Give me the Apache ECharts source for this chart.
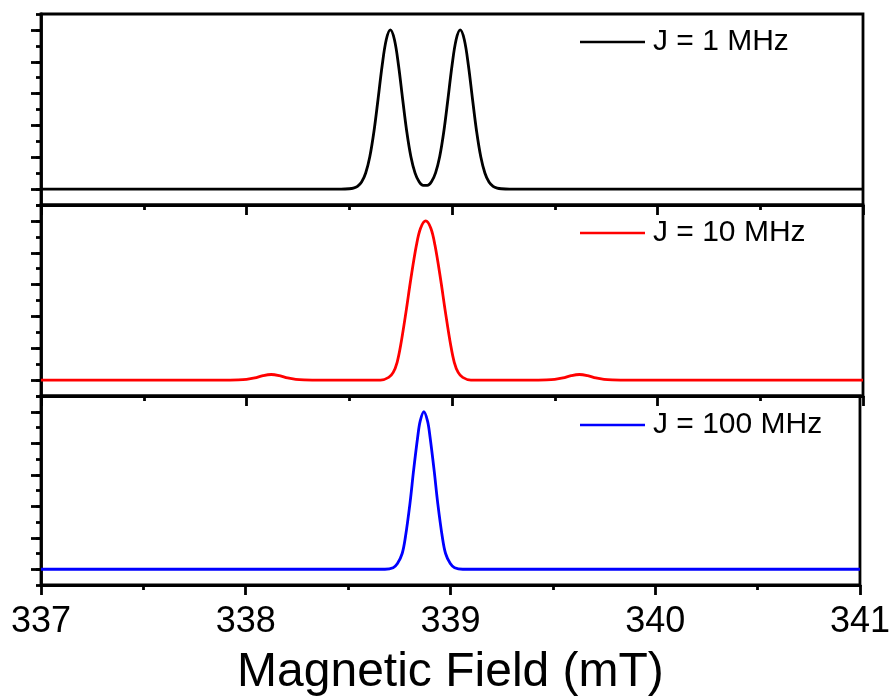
<!DOCTYPE html>
<html>
<head>
<meta charset="utf-8">
<script src="https://cdn.jsdelivr.net/npm/echarts/dist/echarts.min.js"></script>
<style>
  html, body { margin: 0; padding: 0; background: #fff; }
  #main { width: 893px; height: 698px; }
</style>
</head>
<body>
<div id="main"></div>
<script>
// 磁场 (mT) 与三条谱线的读数
var fieldJ1 = [337, 338.46, 338.50, 338.52, 338.54, 338.56, 338.58, 338.60, 338.62, 338.64, 338.66, 338.68, 338.70, 338.72, 338.74, 338.76, 338.78, 338.80, 338.82, 338.84, 338.86, 338.88, 338.90, 338.92, 338.94, 338.96, 338.98, 339.00, 339.02, 339.04, 339.06, 339.08, 339.10, 339.12, 339.14, 339.16, 339.18, 339.20, 339.22, 339.24, 339.28, 341];
var signalJ1 = [0, 0, 0.002, 0.006, 0.017, 0.044, 0.101, 0.203, 0.360, 0.563, 0.775, 0.938, 1.0, 0.938, 0.775, 0.563, 0.360, 0.203, 0.102, 0.046, 0.023, 0.023, 0.046, 0.102, 0.203, 0.360, 0.563, 0.775, 0.938, 1.0, 0.938, 0.775, 0.563, 0.360, 0.203, 0.101, 0.044, 0.017, 0.006, 0.002, 0, 0];

var fieldJ10 = [337, 337.92, 337.96, 338.00, 338.04, 338.08, 338.12, 338.16, 338.20, 338.24, 338.28, 338.32, 338.652, 338.692, 338.714, 338.733, 338.750, 338.776, 338.800, 338.827, 338.847, 338.872, 338.897, 338.917, 338.944, 338.968, 338.994, 339.011, 339.030, 339.052, 339.092, 339.42, 339.46, 339.50, 339.54, 339.58, 339.62, 339.66, 339.70, 339.74, 339.78, 339.82, 341];
var signalJ10 = [0, 0, 0.001, 0.005, 0.014, 0.028, 0.035, 0.028, 0.014, 0.005, 0.001, 0, 0, 0.017, 0.048, 0.112, 0.217, 0.427, 0.638, 0.848, 0.954, 1.0, 0.954, 0.848, 0.638, 0.427, 0.217, 0.112, 0.048, 0.017, 0, 0, 0.001, 0.005, 0.014, 0.028, 0.035, 0.028, 0.014, 0.005, 0.001, 0, 0];

var fieldJ100 = [337, 338.68, 338.72, 338.741, 338.764, 338.78, 338.802, 338.82, 338.84, 338.852, 338.87, 338.888, 338.90, 338.92, 338.938, 338.96, 338.976, 338.999, 339.02, 339.06, 341];
var signalJ100 = [0, 0, 0.010, 0.036, 0.100, 0.206, 0.417, 0.629, 0.841, 0.94, 1.0, 0.94, 0.841, 0.629, 0.417, 0.206, 0.100, 0.036, 0.010, 0, 0];

var seriesNames = ['J = 1 MHz', 'J = 10 MHz', 'J = 100 MHz'];
var seriesColors = ['#000000', '#ff0000', '#0000ff'];
var yMajorTicks = [0, 0.2, 0.4, 0.6, 0.8, 1.0];

var fieldList = [fieldJ1, fieldJ10, fieldJ100];
var signalList = [signalJ1, signalJ10, signalJ100];

var font = 'Liberation Sans, Arial, Helvetica, sans-serif';
var panelTop = [14, 205, 396];
var panelH = 191;
var legendTop = [27, 218, 410];
var lw = 2.8;

function pairs(xs, ys) {
    var out = [];
    for (var i = 0; i < xs.length; i++) {
        out.push([xs[i], ys[i]]);
    }
    return out;
}

var grids = [], xAxes = [], yAxes = [], series = [], legends = [];

for (var i = 0; i < 3; i++) {
    var last = (i == 2);
    grids.push({
        left: 41, right: 30, top: panelTop[i], height: panelH,
        show: true, borderColor: '#000', borderWidth: lw
    });
    xAxes.push({
        gridIndex: i,
        type: 'value',
        min: 337, max: 341, interval: 1,
        axisLine: { onZero: false, lineStyle: { color: '#000', width: lw } },
        axisTick: { show: true, length: 10, lineStyle: { color: '#000', width: lw } },
        minorTick: { show: true, splitNumber: 2, length: 5, lineStyle: { color: '#000', width: lw } },
        splitLine: { show: false },
        axisLabel: { show: last, fontSize: 36, fontFamily: font, color: '#000', margin: 19 },
        name: last ? 'Magnetic Field (mT)' : '',
        nameLocation: 'middle',
        nameGap: 64,
        nameTextStyle: { fontSize: 48, fontFamily: font, color: '#000' }
    });
    // 长刻度
    yAxes.push({
        gridIndex: i,
        type: 'value',
        position: 'left',
        min: -0.1, max: 1.1,
        axisLine: { show: true, onZero: false, lineStyle: { color: '#000', width: lw } },
        axisTick: { show: true, length: 10, customValues: yMajorTicks, lineStyle: { color: '#000', width: lw } },
        axisLabel: { show: false },
        splitLine: { show: false }
    });
    // 短刻度
    yAxes.push({
        gridIndex: i,
        type: 'value',
        position: 'left',
        min: -0.1, max: 1.1, interval: 0.1,
        axisLine: { show: false, onZero: false },
        axisTick: { show: true, length: 5, lineStyle: { color: '#000', width: lw } },
        axisLabel: { show: false },
        splitLine: { show: false }
    });
    series.push({
        name: seriesNames[i],
        type: 'line',
        xAxisIndex: i,
        yAxisIndex: i * 2,
        data: pairs(fieldList[i], signalList[i]),
        symbol: 'none',
        smooth: 0.35,
        lineStyle: { color: seriesColors[i], width: lw },
        itemStyle: { color: seriesColors[i] }
    });
    legends.push({
        data: [{ name: seriesNames[i], icon: 'rect' }],
        left: 580,
        top: legendTop[i],
        padding: 0,
        itemWidth: 65,
        itemHeight: 2.5,
        itemGap: 0,
        textStyle: { fontSize: 30, fontFamily: font, color: '#000', padding: [0, 0, 0, 3] }
    });
}

var myChart = echarts.init(document.getElementById('main'));
var option = {
    animation: false,
    backgroundColor: '#fff',
    legend: legends,
    grid: grids,
    xAxis: xAxes,
    yAxis: yAxes,
    series: series
};
myChart.setOption(option);
</script>
</body>
</html>
